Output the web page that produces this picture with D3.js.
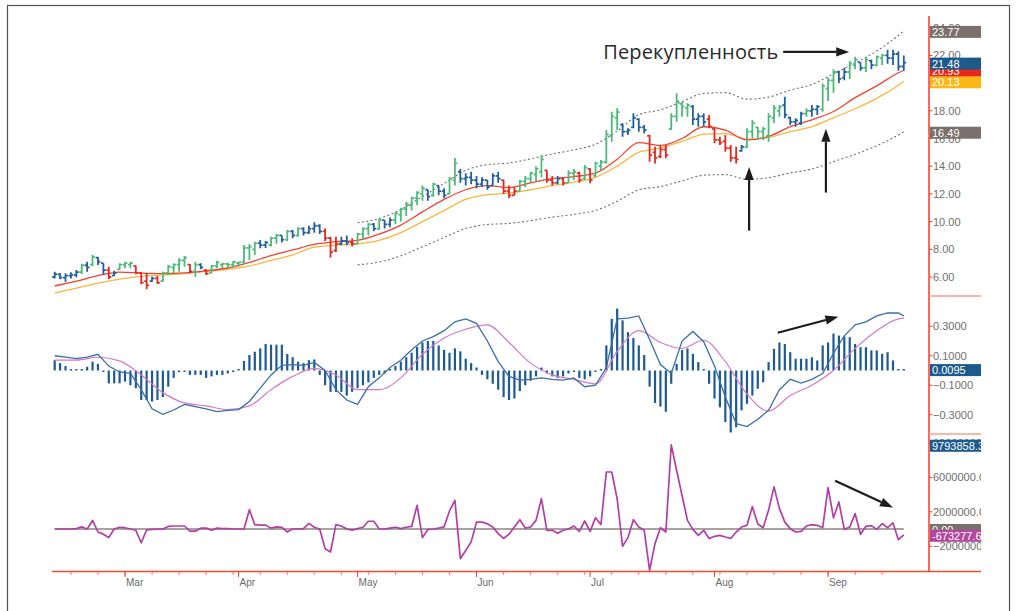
<!DOCTYPE html>
<html>
<head>
<meta charset="utf-8">
<script src="https://cdn.jsdelivr.net/npm/d3@7"></script>
<style>
  body { margin: 0; background: #ffffff; }
  svg text { font-family: "Liberation Sans", Arial, sans-serif; }
</style>
</head>
<body>
<div id="chart"></div>
<script>
// ---------------- data ----------------

// trading days (weekdays) Feb 12 .. Sep 19
var tradingDays = d3.timeDay.range(new Date(2003, 1, 12), new Date(2003, 8, 20))
  .filter(d => d.getDay() !== 0 && d.getDay() !== 6);

// price bars
var barLow = [5.9,5.83,5.66,5.9,5.98,6.2,6.38,6.8,6.87,6.14, 5.86,6.07,6.5,6.63,6.63,6.2,5.47,5.11,5.66,5.5,
  5.66,6.14,6.27,6.38,6.74,6.27,6.02,6.56,6.14,6.27, 6.63,6.63,6.63,6.7,6.74,6.94,7.23,7.59,8.07,8.1,
  8.2,8.4,8.5,8.6,8.8,8.9,9.0,9.1,9.2,9.1, 8.6,7.4,7.8,8.3,8.3,8.2,8.4,8.7,9.0,9.3,
  9.4,9.5,9.6,9.8,10.0,10.4,10.8,11.2,11.5,11.5, 11.8,11.9,11.7,12.0,12.6,12.8,12.6,12.7,12.4,12.5,
  12.3,12.6,12.8,12.0,11.7,11.9,12.2,12.5,12.8,12.9, 13.2,12.8,12.6,12.7,12.6,12.8,13.0,12.8,13.0,12.77,
  13.24,13.73,14.2,15.77,16.61,16.13,16.25,16.74,16.49,16.37, 14.33,14.2,14.57,14.57,16.61,17.21,17.57,17.57,16.97,16.85,
  16.85,16.74,15.65,15.53,15.05,14.33,14.2,15.05,15.29,16.01, 15.89,15.89,15.77,17.1,17.57,17.46,16.97,16.85,16.97,17.57,
  17.57,17.7,17.94,18.7,19.3,20.0,20.2,20.3,21.0,20.9, 20.8,21.0,21.2,21.3,21.4,21.3,20.9,20.9];
var barHigh = [6.38,6.27,6.27,6.34,6.5,6.94,7.1,7.6,7.47,7.0, 6.74,6.45,7.0,7.1,7.1,6.8,6.34,6.27,6.02,6.07,
  6.38,6.87,7.0,7.35,7.52,6.94,7.1,7.0,6.56,6.87, 7.18,7.03,7.03,7.16,7.1,8.31,8.38,8.55,8.67,8.6,
  8.9,9.1,9.0,9.4,9.4,9.6,9.6,9.7,9.95,9.8, 9.5,8.9,8.9,8.9,9.0,8.8,9.2,9.6,9.9,9.9,
  10.2,10.1,10.3,10.7,11.0,11.4,11.8,12.2,12.6,12.3, 12.8,12.6,12.4,13.2,14.6,13.8,13.5,13.6,13.3,13.2,
  13.0,13.5,13.6,13.0,12.6,12.5,13.0,13.3,13.6,14.0, 14.8,13.7,13.3,13.3,13.2,13.7,13.8,13.6,14.09,13.85,
  14.33,14.45,16.61,17.94,18.18,17.1,16.74,17.82,17.46,16.97, 16.25,15.41,15.53,15.53,17.82,19.26,18.66,18.54,18.42,17.82,
  17.82,17.7,16.74,16.13,16.25,15.53,15.41,15.53,16.74,17.34, 16.85,16.85,17.82,18.42,18.42,19.02,17.57,17.46,17.94,18.18,
  18.42,18.42,19.98,20.4,21.0,20.9,21.1,21.6,21.9,21.5, 21.9,21.7,22.0,22.1,22.4,22.4,22.3,22.0];
var barOpen = [6.0,6.2,5.95,6.1,6.15,6.35,6.85,6.9,7.4,7.0, 6.5,6.1,6.55,6.9,6.9,6.8,6.3,5.7,5.7,5.9,
  5.7,6.3,6.7,6.9,7.2,6.9,6.4,6.9,6.5,6.3, 6.8,6.9,6.95,6.9,7.0,7.05,8.1,8.0,8.45,8.3,
  8.3,8.8,9.0,8.7,9.3,9.0,9.5,9.2,9.5,9.7, 9.3,8.8,7.9,8.4,8.6,8.5,8.4,9.1,9.5,9.8,
  9.5,10.1,9.8,10.1,10.5,10.9,11.2,11.7,12.0,12.3, 11.9,12.6,12.2,12.0,13.0,13.6,13.1,13.2,13.0,12.7,
  13.0,12.6,13.3,13.0,12.2,11.9,12.2,12.9,13.1,13.4, 13.6,13.7,13.0,12.8,13.1,12.8,13.5,13.5,13.1,13.8,
  13.3,14.0,14.3,16.2,17.5,17.0,16.5,16.8,17.4,16.8, 16.2,15.0,14.7,15.2,16.7,17.6,18.5,18.2,18.3,17.4,
  17.6,17.4,16.7,15.9,15.8,15.3,14.6,15.1,15.4,16.5, 16.8,16.5,16.2,17.5,18.0,18.4,17.5,17.2,17.1,17.8,
  18.0,18.1,18.1,19.6,20.2,20.8,20.4,20.8,21.3,21.5, 21.1,21.6,21.3,21.8,22.0,21.8,22.1,21.2];
var barClose = [6.2,5.95,6.1,6.15,6.35,6.85,6.7,7.45,7.1,6.5, 6.0,6.3,6.9,7.0,7.0,6.3,5.6,5.4,5.9,5.6,
  6.3,6.75,6.9,7.2,7.4,6.4,6.9,6.7,6.25,6.8, 7.05,6.95,6.9,7.1,7.05,8.1,8.2,8.45,8.3,8.5,
  8.8,9.0,8.7,9.3,9.0,9.5,9.2,9.5,9.7,9.3, 8.8,7.8,8.4,8.6,8.5,8.4,9.1,9.5,9.8,9.5,
  10.1,9.8,10.1,10.6,10.9,11.3,11.7,12.1,12.4,11.8, 12.7,12.2,11.9,13.1,14.2,13.1,13.2,13.0,12.7,13.0,
  12.5,13.3,13.1,12.2,11.9,12.2,12.9,13.1,13.5,13.8, 14.5,13.0,12.8,13.1,12.8,13.5,13.6,13.0,13.9,13.0,
  14.2,14.3,16.3,17.6,17.9,16.5,16.6,17.5,16.8,16.6, 14.8,14.6,15.2,14.8,17.6,18.7,18.3,18.4,17.4,17.6,
  17.2,16.9,15.9,15.7,15.3,14.6,14.5,15.4,16.5,17.1, 16.5,16.7,17.6,18.2,18.3,17.7,17.2,17.3,17.8,18.0,
  18.1,18.3,19.8,20.2,20.8,20.3,20.8,21.4,21.7,21.1, 21.7,21.3,21.9,22.0,21.8,22.1,21.2,21.48];
// g = green (impulse up), r = red (impulse down), b = blue (neutral)
var barTone = "bbbbbgbgbb" + "rbgggrrrbr" + "gggggrgbrg" + "ggggggggbb" + "ggbgbgbbbb" +
  "rrrbbrgggb" + "gbbggggggb" + "gbbggbbbbb" + "bbbrrrgggg" + "grrbrggrgr" +
  "gggggbbbbb" + "rrrrggggbb" + "brrrrrrbgg" + "gggggbbbbg" + "bbgggbbggb" + "gbggbbbb";

// moving averages, sampled every 4th bar (+ last bar)
var maDays = d3.range(0, 157, 4).concat([157]);
var emaFast = [5.35,5.7,6.1,6.35,6.28,6.25,6.3,6.45,6.65,7.05,7.55,7.95,8.35,8.55,8.65,9.1,9.75,10.7,11.6,12.3,
  12.6,12.45,12.8,13.1,13.25,13.5,14.5,15.7,15.5,16.0,16.85,16.6,15.9,16.15,16.85,17.35,17.95,18.95,19.8,20.75,20.93];
var emaSlow = [4.85,5.2,5.55,5.85,6.05,6.15,6.25,6.4,6.55,6.8,7.2,7.6,8.15,8.3,8.4,8.65,9.2,10.0,10.8,11.6,
  11.95,12.05,12.3,12.6,12.85,13.2,14.0,15.0,15.3,15.8,16.3,16.35,15.95,16.08,16.5,16.85,17.5,18.15,18.9,19.85,20.13];

// envelope channel
var bandDays = d3.range(56, 157, 4).concat([157]);
var bandUpper = [9.92,10.22,10.87,11.81,12.75,13.7,14.11,14.23,14.53,14.88,15.18,15.59,16.53,17.72,18.07,18.66,
  19.25,19.31,18.84,18.99,19.49,19.9,20.67,21.44,22.32,23.44,23.77];
var bandLower = [6.88,7.08,7.53,8.19,8.85,9.5,9.79,9.87,10.07,10.32,10.52,10.81,11.47,12.29,12.53,12.94,
  13.35,13.39,13.06,13.17,13.51,13.8,14.33,14.86,15.48,16.26,16.49];

// MACD line (every 2nd bar), signal (every 4th bar), histogram (every bar)
var macdDays = d3.range(0, 157, 2).concat([157]);
var macdLine = [0.10,0.09,0.08,0.09,0.11,0.03,-0.01,-0.02,-0.13,-0.26, -0.297,-0.268,-0.23,-0.245,-0.26,-0.279,-0.27,-0.265,-0.21,-0.12,
  -0.03,0.035,0.04,0.035,0.055,0.0,-0.13,-0.2,-0.23,-0.11, -0.05,0.02,0.07,0.14,0.2,0.23,0.27,0.33,0.35,0.32,
  0.2,0.06,-0.04,-0.065,-0.06,-0.05,-0.06,-0.065,-0.05,-0.11, -0.1,0.02,0.35,0.355,0.37,0.21,0.04,-0.02,0.2,0.265,
  0.195,0.03,-0.18,-0.36,-0.38,-0.33,-0.27,-0.13,-0.06,-0.085, -0.06,-0.02,0.117,0.235,0.31,0.33,0.37,0.39,0.39,0.37];
var macdSignal = [0.07,0.07,0.09,0.065,-0.03,-0.15,-0.22,-0.24,-0.265,-0.24,-0.13,-0.04,0.015,-0.03,-0.13,-0.13,-0.05,0.11,0.22,0.28,
  0.31,0.19,0.05,-0.03,-0.06,-0.09,0.13,0.27,0.19,0.15,0.205,0.06,-0.16,-0.275,-0.17,-0.1,0.0,0.15,0.27,0.35,0.355];
var macdHist = [0.07,0.05,0.03,0.01,0.01,0.01,0.025,0.06,0.045,-0.01, -0.087,-0.087,-0.087,-0.075,-0.1,-0.12,-0.2,-0.2,-0.21,-0.2,
  -0.18,-0.11,-0.05,-0.01,-0.01,-0.03,-0.03,-0.03,-0.05,-0.04, -0.03,-0.03,-0.02,-0.005,0.005,0.065,0.105,0.127,0.15,0.18,
  0.175,0.175,0.175,0.112,0.09,0.06,0.05,0.07,0.075,-0.03, -0.1,-0.145,-0.145,-0.145,-0.17,-0.145,-0.12,-0.1,-0.08,-0.05,
  -0.03,-0.02,0.01,0.03,0.06,0.09,0.12,0.16,0.19,0.2, 0.2,0.17,0.14,0.12,0.15,0.13,0.08,0.05,0.02,-0.03,
  -0.06,-0.09,-0.13,-0.18,-0.2,-0.19,-0.14,-0.1,-0.07,-0.04, 0.02,-0.02,-0.04,-0.05,-0.04,-0.02,-0.01,-0.05,-0.06,-0.04,
  -0.01,0.01,0.17,0.35,0.42,0.34,0.26,0.22,0.17,0.105, -0.11,-0.22,-0.245,-0.28,-0.09,0.045,0.139,0.15,0.113,0.057,
  0.01,-0.09,-0.19,-0.25,-0.35,-0.42,-0.385,-0.27,-0.226,-0.17, -0.124,-0.08,0.057,0.147,0.19,0.18,0.124,0.08,0.08,0.08,
  0.09,0.068,0.17,0.19,0.25,0.237,0.23,0.226,0.18,0.158, 0.158,0.136,0.136,0.113,0.124,0.068,0.01,0.0095];

// force index, millions
var forceIndex = [0,0,0,0,0.05,0.25,0,1.0,-0.35,-0.6, -1.0,0,0.2,0.15,0,-0.15,-1.6,-0.1,-0.05,0,
  0,0.3,0.35,0.35,0.35,-0.25,-0.25,0.1,0.1,-0.15, 0.1,0.05,0.05,0,0,0,2.25,0.5,0.45,0.45,
  0.1,0.25,0.2,-0.35,0,0,0.05,0.65,0.2,0, -2.3,-2.67,0.5,0.35,0,-0.15,0.05,0.2,0.9,0.9,
  0,0,0.1,0.2,0.05,0.2,0.3,2.75,-1.0,-0.05, 0,0.1,0.25,2.1,3.33,-3.45,-2.5,-1.5,0.8,0.8,
  0.6,0.23,-0.54,-1.1,-0.6,0.23,1.08,0.1,0.23,1.0, 3.53,-0.15,-0.15,-0.5,-0.15,0,0.35,-0.27,0.93,-0.27,
  1.32,0.5,6.63,6.63,3.5,-2.0,-1.0,1.08,0.23,-0.15, -4.8,-1.7,0.15,-0.35,9.79,6.8,3.9,1.0,-0.04,-0.74,
  -0.15,-1.1,-0.85,-0.74,-0.93,-1.1,-0.35,0.23,0.43,2.6, 0.58,0.15,2.2,4.9,2.4,0.8,0.04,-0.35,-0.27,0.35,
  0.5,0.43,0.15,4.8,1.3,3.14,-0.04,0.23,1.78,-0.62, 0.31,0.39,-0.04,0.62,0.15,0.7,-1.24,-0.673];

// right-hand value boxes
var priceBoxes = [["23.77", 23.77, "#7a716c"], ["16.49", 16.49, "#7a716c"], ["20.93", 20.93, "#e8281e"],
  ["20.13", 20.13, "#fbb617"], ["21.48", 21.48, "#1d5a8c"]];
var macdBoxes = [["0.0095", 0.0095, "#1d5a8c"]];
var forceBoxes = [["9793858.38", 9.793858, "#1d5a8c"], ["0.00", 0, "#7a716c"], ["-673277.68", -0.673277, "#b2479f"]];

// tick labels
var priceTicks = [6, 8, 10, 12, 14, 16, 18, 20, 22, 24];
var macdTicks = [0.3, 0.1, -0.1, -0.3];
var forceTicks = [10, 6, 2, -2];

// annotations, in day / value units
var overboughtText = "Перекупленность";
var priceArrows = [[[134.7, 22.25], [146.9, 22.25]], [[128.4, 9.35], [128.4, 13.95]], [[142.6, 12.1], [142.6, 16.7]]];
var macdArrows = [[[133.7, 0.256], [144.9, 0.365]]];
var forceArrows = [[[144.3, 5.6], [155, 2.5]]];

// ---------------- layout ----------------
var svgWidth = 1017;
var svgHeight = 611;
var axisX = 929;
var labelRight = 981;
var plotLeft = 52;

var svg = d3.select("#chart")
  .append("svg")
  .attr("width", svgWidth)
  .attr("height", svgHeight);

var xScale = d3.scaleLinear().domain([0, tradingDays.length - 1]).range([54.7, 903.8]);
var yPrice = d3.scaleLinear().domain([6, 22]).range([277, 55.4]);
var yMacd = d3.scaleLinear().domain([-0.3, 0.3]).range([414.75, 326.25]);
var yForce = d3.scaleLinear().domain([-2, 6]).range([546.2, 477.4]);

// outer frame
svg.append("rect")
  .attr("x", 7.5).attr("y", 5.5)
  .attr("width", 1002).attr("height", 640)
  .attr("fill", "none")
  .attr("stroke", "#555")
  .attr("stroke-width", 1.2);

// ---------------- price panel ----------------
var toneColor = { g: "#4fb97b", b: "#22609c", r: "#e4281f" };

function linePath(days, values, yScale, curve) {
  return d3.line()
    .x((d, i) => xScale(days[i]))
    .y(d => yScale(d))
    .curve(curve || d3.curveLinear)(values);
}

var priceGroup = svg.append("g");

// envelope
[bandUpper, bandLower].forEach(function(band) {
  priceGroup.append("path")
    .attr("d", linePath(bandDays, band, yPrice, d3.curveMonotoneX))
    .attr("fill", "none")
    .attr("stroke", "#6f6f6f")
    .attr("stroke-width", 1.1)
    .attr("stroke-dasharray", "2,2.4");
});

// slow and fast EMA
priceGroup.append("path")
  .attr("d", linePath(maDays, emaSlow, yPrice, d3.curveMonotoneX))
  .attr("fill", "none")
  .attr("stroke", "#fdb43c")
  .attr("stroke-width", 1.3);
priceGroup.append("path")
  .attr("d", linePath(maDays, emaFast, yPrice, d3.curveMonotoneX))
  .attr("fill", "none")
  .attr("stroke", "#ef4334")
  .attr("stroke-width", 1.3);

// OHLC bars
priceGroup.selectAll(".bar")
  .data(d3.range(tradingDays.length))
  .enter()
  .append("path")
  .attr("class", "bar")
  .attr("d", function(i) {
    var x = xScale(i);
    return `M${x},${yPrice(barHigh[i])}V${yPrice(barLow[i])}` +
      `M${x - 2.4},${yPrice(barOpen[i])}H${x}M${x},${yPrice(barClose[i])}H${x + 2.4}`;
  })
  .attr("fill", "none")
  .attr("stroke", i => toneColor[barTone[i]])
  .attr("stroke-width", 1.8);

// ---------------- MACD panel ----------------
var macdGroup = svg.append("g");

macdGroup.selectAll(".hist")
  .data(macdHist)
  .enter()
  .append("line")
  .attr("class", "hist")
  .attr("x1", (d, i) => xScale(i))
  .attr("x2", (d, i) => xScale(i))
  .attr("y1", yMacd(0))
  .attr("y2", d => Math.abs(yMacd(d) - yMacd(0)) < 1.5 ? yMacd(0) + (d < 0 ? 1.5 : -1.5) : yMacd(d))
  .attr("stroke", "#1d5a94")
  .attr("stroke-width", 2.2);

macdGroup.append("path")
  .attr("d", linePath(maDays, macdSignal, yMacd, d3.curveMonotoneX))
  .attr("fill", "none")
  .attr("stroke", "#d27acb")
  .attr("stroke-width", 1.2);
macdGroup.append("path")
  .attr("d", linePath(macdDays, macdLine, yMacd))
  .attr("fill", "none")
  .attr("stroke", "#3a6ea8")
  .attr("stroke-width", 1.3);

// ---------------- force index panel ----------------
var forceGroup = svg.append("g");

forceGroup.append("line")
  .attr("x1", xScale(0)).attr("x2", xScale(tradingDays.length - 1))
  .attr("y1", yForce(0)).attr("y2", yForce(0))
  .attr("stroke", "#8c8480")
  .attr("stroke-width", 1.6);

forceGroup.append("path")
  .attr("d", linePath(d3.range(forceIndex.length), forceIndex, yForce))
  .attr("fill", "none")
  .attr("stroke", "#b13fa6")
  .attr("stroke-width", 1.7)
  .attr("stroke-linejoin", "round");

// ---------------- axes ----------------
var axisGroup = svg.append("g");

// bottom time axis
axisGroup.append("line")
  .attr("x1", plotLeft).attr("x2", labelRight)
  .attr("y1", 571.5).attr("y2", 571.5)
  .attr("stroke", "#f14b37")
  .attr("stroke-width", 1.5);

var weekStarts = d3.range(tradingDays.length).filter(i => tradingDays[i].getDay() === 1);
var monthStarts = d3.range(1, tradingDays.length)
  .filter(i => tradingDays[i].getMonth() !== tradingDays[i - 1].getMonth());

axisGroup.selectAll(".wtick")
  .data(weekStarts)
  .enter()
  .append("line")
  .attr("x1", i => xScale(i)).attr("x2", i => xScale(i))
  .attr("y1", 572).attr("y2", 575)
  .attr("stroke", "#f37a68")
  .attr("stroke-width", 1);

axisGroup.selectAll(".mtick")
  .data(monthStarts)
  .enter()
  .append("line")
  .attr("x1", i => xScale(i)).attr("x2", i => xScale(i))
  .attr("y1", 572).attr("y2", 577)
  .attr("stroke", "#ef3d2a")
  .attr("stroke-width", 1);

axisGroup.selectAll(".mlabel")
  .data(monthStarts)
  .enter()
  .append("text")
  .attr("x", i => xScale(i) + 1)
  .attr("y", 585.5)
  .attr("font-size", 10)
  .attr("fill", "#6a6a6a")
  .text(i => d3.timeFormat("%b")(tradingDays[i]));

// right value axis
axisGroup.append("line")
  .attr("x1", axisX).attr("x2", axisX)
  .attr("y1", 16).attr("y2", 571.5)
  .attr("stroke", "#ee3b2b")
  .attr("stroke-width", 1.5);

[296, 434].forEach(function(y) {
  axisGroup.append("line")
    .attr("x1", axisX).attr("x2", labelRight)
    .attr("y1", y).attr("y2", y)
    .attr("stroke", "#f6a28c")
    .attr("stroke-width", 1.5);
});

svg.append("clipPath")
  .attr("id", "labelClip")
  .append("rect")
  .attr("x", axisX).attr("y", 0)
  .attr("width", labelRight - axisX).attr("height", svgHeight);

var labelGroup = svg.append("g").attr("clip-path", "url(#labelClip)");

function tickLabels(values, yScale, fmt) {
  values.forEach(function(v) {
    var y = yScale(v);
    labelGroup.append("line")
      .attr("x1", axisX).attr("x2", axisX + 3.5)
      .attr("y1", y).attr("y2", y)
      .attr("stroke", "#ee3b2b")
      .attr("stroke-width", 1);
    labelGroup.append("text")
      .attr("x", axisX + 4)
      .attr("y", y + 4)
      .attr("font-size", 11)
      .attr("fill", "#6e6e6e")
      .text(fmt(v));
  });
}

tickLabels(priceTicks, yPrice, d3.format(".2f"));
tickLabels(macdTicks, yMacd, d3.format(".4f"));
tickLabels(forceTicks, yForce, v => d3.format(".2f")(v * 1e6));

function valueBoxes(boxes, yScale) {
  boxes.forEach(function(b) {
    var y = yScale(b[1]) + 1;
    labelGroup.append("rect")
      .attr("x", axisX + 1).attr("y", y - 6)
      .attr("width", labelRight - axisX).attr("height", 12)
      .attr("fill", b[2]);
    labelGroup.append("text")
      .attr("x", axisX + 3)
      .attr("y", y + 4)
      .attr("font-size", 11)
      .attr("fill", "#ffffff")
      .text(b[0]);
  });
}

valueBoxes(priceBoxes, yPrice);
valueBoxes(macdBoxes, yMacd);
valueBoxes(forceBoxes, yForce);

// ---------------- annotations ----------------
var annot = svg.append("g");

function drawArrow(from, to, yScale) {
  var x1 = xScale(from[0]), y1 = yScale(from[1]);
  var x2 = xScale(to[0]), y2 = yScale(to[1]);
  var ang = Math.atan2(y2 - y1, x2 - x1);
  var len = 13, w = 4.6;
  var bx = x2 - len * Math.cos(ang), by = y2 - len * Math.sin(ang);
  annot.append("line")
    .attr("x1", x1).attr("y1", y1)
    .attr("x2", bx).attr("y2", by)
    .attr("stroke", "#1c1c1c")
    .attr("stroke-width", 2.2);
  annot.append("path")
    .attr("d", `M${x2},${y2}L${bx - w * Math.sin(ang)},${by + w * Math.cos(ang)}` +
      `L${bx + w * Math.sin(ang)},${by - w * Math.cos(ang)}Z`)
    .attr("fill", "#1c1c1c");
}

priceArrows.forEach(a => drawArrow(a[0], a[1], yPrice));
macdArrows.forEach(a => drawArrow(a[0], a[1], yMacd));
forceArrows.forEach(a => drawArrow(a[0], a[1], yForce));

annot.append("text")
  .attr("x", xScale(priceArrows[0][0][0]) - 5)
  .attr("y", yPrice(priceArrows[0][0][1]) + 7)
  .attr("text-anchor", "end")
  .attr("font-size", 20)
  .attr("fill", "#2a2a2a")
  .style("font-family", "'Open Sans', sans-serif")
  .attr("textLength", 175)
  .attr("lengthAdjust", "spacing")
  .text(overboughtText);
</script>
</body>
</html>
